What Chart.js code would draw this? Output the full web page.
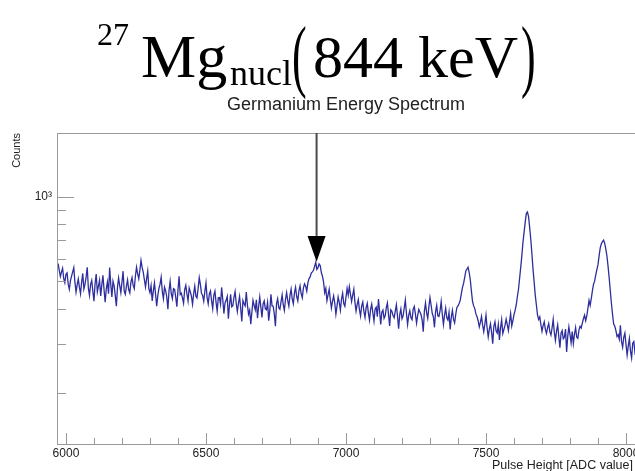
<!DOCTYPE html>
<html>
<head>
<meta charset="utf-8">
<script src="https://cdn.jsdelivr.net/npm/chart.js@4"></script>
<style>
  html, body { margin: 0; padding: 0; overflow: hidden; background: #fff; }
  #wrap { width: 660px; height: 471px; }
</style>
</head>
<body>
<div id="wrap"><canvas id="spectrum" width="660" height="471"></canvas></div>
<script>
// Germanium spectrum, 4 ADC channels per bin
const binStart = 5972;
const binWidth = 4;
const counts = [
  579, 548, 521, 540, 557, 512, 495, 530, 536, 489, 469, 503, 522, 541, 560, 497, 458, 486, 510, 477,
  452, 497, 534, 470, 488, 519, 562, 473, 446, 488, 504, 462, 425, 492, 531, 459, 481, 505, 444, 486,
  526, 468, 422, 471, 498, 452, 560, 489, 440, 501, 482, 445, 408, 477, 514, 483, 456, 497, 544, 462,
  450, 481, 506, 468, 455, 497, 516, 484, 471, 523, 562, 532, 511, 549, 594, 561, 540, 507, 478, 512,
  544, 471, 456, 483, 426, 462, 494, 450, 408, 445, 472, 489, 518, 461, 434, 477, 464, 441, 398, 463,
  500, 452, 434, 471, 468, 439, 406, 466, 522, 449, 454, 437, 418, 468, 484, 451, 426, 474, 460, 443,
  415, 452, 481, 443, 437, 472, 516, 488, 454, 446, 425, 461, 494, 438, 416, 451, 462, 427, 400, 446,
  462, 421, 392, 437, 438, 415, 476, 431, 384, 419, 428, 442, 368, 412, 450, 406, 410, 439, 460, 418,
  390, 418, 442, 401, 360, 427, 416, 409, 458, 412, 382, 395, 352, 389, 428, 411, 396, 430, 370, 407,
  440, 405, 372, 416, 426, 399, 396, 421, 362, 394, 450, 409, 408, 383, 346, 417, 434, 402, 398, 423,
  448, 412, 394, 431, 456, 427, 408, 446, 469, 433, 416, 455, 476, 441, 426, 463, 482, 452, 437, 474,
  490, 481, 462, 494, 512, 519, 536, 541, 548, 566, 585, 552, 560, 577, 570, 538, 522, 497, 456, 472,
  427, 448, 469, 431, 402, 425, 444, 418, 382, 409, 440, 421, 395, 432, 454, 417, 408, 439, 472, 447,
  479, 451, 424, 447, 469, 421, 392, 414, 431, 397, 376, 409, 422, 391, 372, 403, 418, 386, 364, 398,
  415, 386, 361, 399, 405, 374, 433, 392, 351, 388, 395, 369, 377, 403, 419, 380, 347, 396, 391, 378,
  371, 392, 413, 376, 339, 381, 399, 368, 377, 402, 429, 384, 351, 379, 393, 371, 365, 398, 407, 382,
  355, 378, 397, 389, 381, 364, 331, 392, 419, 386, 369, 405, 438, 412, 385, 374, 343, 390, 411, 377,
  375, 393, 424, 382, 351, 379, 402, 371, 364, 388, 337, 372, 394, 366, 356, 381, 404, 409, 417, 428,
  452, 476, 492, 517, 545, 553, 562, 538, 506, 461, 424, 409, 400, 383, 374, 362, 344, 357, 375, 349,
  331, 352, 379, 341, 317, 338, 353, 329, 300, 346, 359, 333, 327, 351, 309, 342, 365, 326, 337, 349,
  367, 351, 334, 359, 384, 347, 362, 381, 394, 412, 441, 468, 512, 561, 617, 689, 748, 812, 873, 884,
  851, 779, 706, 628, 552, 497, 446, 412, 380, 366, 374, 351, 332, 348, 359, 337, 326, 342, 354, 331,
  322, 341, 366, 329, 308, 333, 350, 318, 290, 327, 334, 312, 316, 338, 280, 319, 344, 323, 302, 331,
  300, 324, 342, 316, 313, 335, 346, 341, 355, 368, 379, 362, 377, 401, 428, 411, 434, 463, 489, 501,
  528, 551, 574, 618, 659, 681, 694, 702, 683, 652, 615, 566, 514, 462, 417, 381, 352, 346, 334, 318,
  323, 311, 349, 305, 291, 316, 327, 298, 273, 294, 313, 282, 267, 301, 305, 279, 287, 296, 264, 285
];

const xTicks = [6000, 6100, 6200, 6300, 6400, 6500, 6600, 6700, 6800, 6900,
  7000, 7100, 7200, 7300, 7400, 7500, 7600, 7700, 7800, 7900, 8000];
const xMajor = [6000, 6500, 7000, 7500, 8000];
const yTicks = [200, 300, 400, 500, 600, 700, 800, 900, 1000];

const xRange = [5968, 8050];
const yRange = [131.5, 1693];

// arrow marking the 844 keV line
const arrowAdc = 6895;
const arrowHeadCount = 727;
const arrowTipCount = 588;

const points = counts.map((c, i) => ({ x: binStart + i * binWidth, y: c }));

const FRAME = '#9a9a9a';
const TEXT = '#222';

function drawParen(ctx, ch, x, y) {
    ctx.save();
    ctx.translate(x, y);
    ctx.scale(0.55, 1);
    ctx.font = '80px "Liberation Serif"';
    ctx.fillText(ch, 0, 0);
    ctx.restore();
}

const decorations = {
    id: 'decorations',
    afterDatasetsDraw(chart) {
        const { ctx, chartArea: a, scales: { x, y } } = chart;
        ctx.save();

        // frame
        ctx.strokeStyle = FRAME;
        ctx.lineWidth = 1;
        ctx.strokeRect(a.left + 0.5, a.top + 0.5, a.right - a.left, a.bottom - a.top);

        // inward tick marks, ROOT style
        ctx.beginPath();
        x.ticks.forEach(t => {
            const px = Math.round(x.getPixelForValue(t.value)) + 0.5;
            const len = xMajor.includes(t.value) ? 11 : 6;
            ctx.moveTo(px, a.bottom);
            ctx.lineTo(px, a.bottom - len);
        });
        y.ticks.forEach(t => {
            const py = Math.round(y.getPixelForValue(t.value)) + 0.5;
            const len = t.value === 1000 ? 17 : 9;
            ctx.moveTo(a.left, py);
            ctx.lineTo(a.left + len, py);
        });
        ctx.stroke();

        // arrow
        const ax = x.getPixelForValue(arrowAdc);
        const headTop = y.getPixelForValue(arrowHeadCount);
        const tip = y.getPixelForValue(arrowTipCount);
        ctx.strokeStyle = '#4a4a4a';
        ctx.lineWidth = 2;
        ctx.beginPath();
        ctx.moveTo(ax, a.top);
        ctx.lineTo(ax, headTop);
        ctx.stroke();
        ctx.fillStyle = '#000';
        ctx.beginPath();
        ctx.moveTo(ax - 9, headTop);
        ctx.lineTo(ax + 9, headTop);
        ctx.lineTo(ax, tip);
        ctx.closePath();
        ctx.fill();

        // titles
        ctx.fillStyle = '#000';
        ctx.textBaseline = 'alphabetic';
        ctx.textAlign = 'left';
        ctx.font = '32px "Liberation Serif"';
        ctx.fillText('27', 97, 45);
        ctx.font = '62px "Liberation Serif"';
        ctx.fillText('Mg', 141, 77);
        ctx.font = '36px "Liberation Serif"';
        ctx.fillText('nucl', 230, 85);
        drawParen(ctx, '(', 292, 82);
        ctx.font = '60px "Liberation Serif"';
        ctx.fillText('844 keV', 313, 77);
        drawParen(ctx, ')', 521, 82);

        ctx.fillStyle = TEXT;
        ctx.textAlign = 'center';
        ctx.font = '18px "Liberation Sans"';
        ctx.fillText('Germanium Energy Spectrum', 346, 110);

        ctx.textAlign = 'right';
        ctx.font = '12.5px "Liberation Sans"';
        ctx.fillText('Pulse Height [ADC value]', 633, 469);
        ctx.restore();
    }
};

new Chart(document.getElementById('spectrum').getContext('2d'), {
    type: 'line',
    data: {
        datasets: [{
            label: 'Counts',
            data: points,
            borderColor: 'rgba(22, 22, 148, 0.9)',
            borderWidth: 1.3,
            pointRadius: 0,
            tension: 0,
            fill: false
        }]
    },
    options: {
        responsive: false,
        animation: false,
        layout: { padding: { top: 133, right: 20, left: 0, bottom: 0 } },
        plugins: { legend: { display: false }, tooltip: { enabled: false } },
        scales: {
            x: {
                type: 'linear',
                min: xRange[0],
                max: xRange[1],
                afterFit: s => { s.height = 27; },
                afterBuildTicks: s => { s.ticks = xTicks.map(v => ({ value: v })); },
                grid: { display: false, drawTicks: false },
                border: { display: false },
                ticks: {
                    autoSkip: false,
                    maxRotation: 0,
                    padding: 2,
                    color: TEXT,
                    font: { family: 'Liberation Sans', size: 12 },
                    callback: v => xMajor.includes(v) ? String(v) : ''
                }
            },
            y: {
                type: 'logarithmic',
                min: yRange[0],
                max: yRange[1],
                afterFit: s => { s.width = 57; },
                afterBuildTicks: s => { s.ticks = yTicks.map(v => ({ value: v })); },
                grid: { display: false, drawTicks: false },
                border: { display: false },
                title: {
                    display: true,
                    text: 'Counts',
                    align: 'end',
                    color: TEXT,
                    padding: { top: 10, bottom: 0 },
                    font: { family: 'Liberation Sans', size: 11 }
                },
                ticks: {
                    autoSkip: false,
                    padding: 5,
                    color: TEXT,
                    font: { family: 'Liberation Sans', size: 12 },
                    callback: v => v === 1000 ? '10³' : ''
                }
            }
        }
    },
    plugins: [decorations]
});
</script>
</body>
</html>
